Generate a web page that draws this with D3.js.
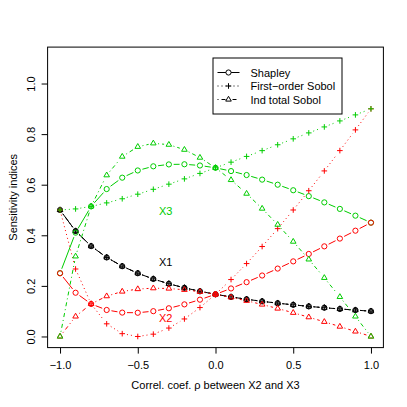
<!DOCTYPE html>
<html><head><meta charset="utf-8">
<script src="https://cdn.jsdelivr.net/npm/d3@7"></script>
<style>
body{margin:0;background:#fff}
text{font-family:"Liberation Sans",Arial,Helvetica,sans-serif;font-size:11px}
</style>
</head><body>
<svg id="chart" width="407" height="407"></svg>
<script>
// ---- data ----
const rho = [-1.0,-0.9,-0.8,-0.7,-0.6,-0.5,-0.4,-0.3,-0.2,-0.1,0.0,0.1,0.2,0.3,0.4,0.5,0.6,0.7,0.8,0.9,1.0];
// X1 (identical for all three indices)
const x1Values = [0.5,0.4167,0.3571,0.3125,0.2778,0.25,0.2273,0.2083,0.1923,0.1786,0.1667,0.1563,0.1471,0.1389,0.1316,0.125,0.1190,0.1136,0.1087,0.1042,0.1];
const shapleyX2 = [0.25,0.1729,0.1286,0.1047,0.0944,0.0938,0.1,0.1115,0.1269,0.1455,0.1667,0.1898,0.2147,0.2410,0.2684,0.2969,0.3262,0.3563,0.3870,0.4182,0.45];
const shapleyX3 = [0.25,0.4104,0.5143,0.5828,0.6278,0.6563,0.6727,0.6802,0.6808,0.6759,0.6667,0.6539,0.6382,0.6201,0.6,0.5781,0.5548,0.5301,0.5043,0.4776,0.45];
const firstX2 = [0.5,0.2667,0.1286,0.05,0.0111,0.0,0.0091,0.0333,0.0692,0.1143,0.1667,0.225,0.2882,0.3556,0.4263,0.5,0.5762,0.6545,0.7348,0.8167,0.9];
const firstX3 = [0.5,0.5042,0.5143,0.5281,0.5444,0.5625,0.5818,0.6021,0.6231,0.6446,0.6667,0.6891,0.7118,0.7347,0.7579,0.7813,0.8048,0.8284,0.8522,0.8760,0.9];
const indTotalX2 = [0.0,0.0792,0.1286,0.1594,0.1778,0.1875,0.1909,0.1896,0.1846,0.1768,0.1667,0.1547,0.1412,0.1264,0.1105,0.0938,0.0762,0.0580,0.0391,0.0198,0.0];
const indTotalX3 = [0.0,0.3167,0.5143,0.6375,0.7111,0.75,0.7636,0.7583,0.7385,0.7071,0.6667,0.6188,0.5647,0.5056,0.4421,0.375,0.3048,0.2318,0.1565,0.0792,0.0];
const xTicks = [-1.0,-0.5,0.0,0.5,1.0];
const yTicks = [0.0,0.2,0.4,0.6,0.8,1.0];
const legendLabels = ["Shapley","First\u2212order Sobol","Ind total Sobol"];
const varLabels = ["X1","X2","X3"];
const varLabelX = [-0.32,-0.32,-0.32];
const varLabelY = [0.295,0.072,0.497];

// ---- styles ----
const colBlack = "#000000", colRed = "#FF0000", colGreen = "#00CD00";
const dashes = {shapley:null, first:"1,3", total:"1,3,4,3"};
const markers = {shapley:"circle", first:"plus", total:"tri"};

const svg = d3.select("#chart");
svg.append("rect").attr("width",407).attr("height",407).attr("fill","#fff");

const x = d3.scaleLinear().domain([-1.08,1.08]).range([47.6,383.4]);
const y = d3.scaleLinear().domain([-0.044,1.144]).range([347.6,47.1]);

function markerPath(type){
  if(type==="plus") return "M-2.8,0H2.8M0,-2.8V2.8";
  if(type==="tri") return "M0,-3.2L2.8,1.6L-2.8,1.6Z";
  return d3.symbol().type(d3.symbolCircle).size(Math.PI*2.6*2.6)();
}

function drawSeries(vals, color, method){
  const g = svg.append("g");
  const pts = rho.map((r,i)=>[x(r), y(vals[i])]);
  const gap = 4.8;
  for(let i=0;i<pts.length-1;i++){
    const [ax,ay]=pts[i],[bx,by]=pts[i+1];
    const d=Math.hypot(bx-ax,by-ay);
    if(d<=2*gap) continue;
    const ux=(bx-ax)/d, uy=(by-ay)/d;
    g.append("line")
      .attr("x1",ax+ux*gap).attr("y1",ay+uy*gap)
      .attr("x2",bx-ux*gap).attr("y2",by-uy*gap)
      .attr("stroke",color).attr("stroke-width",1)
      .attr("stroke-dasharray",dashes[method]);
  }
  g.selectAll("path.m").data(pts).enter().append("path")
    .attr("class","m")
    .attr("transform",d=>`translate(${d[0]},${d[1]})`)
    .attr("d",markerPath(markers[method]))
    .attr("fill","none").attr("stroke",color).attr("stroke-width",1);
}

// draw order
drawSeries(x1Values,colBlack,"shapley");
drawSeries(x1Values,colBlack,"first");
drawSeries(x1Values,colBlack,"total");
drawSeries(shapleyX3,colGreen,"shapley");
drawSeries(shapleyX2,colRed,"shapley");
drawSeries(firstX2,colRed,"first");
drawSeries(firstX3,colGreen,"first");
drawSeries(indTotalX2,colRed,"total");
drawSeries(indTotalX3,colGreen,"total");

// box
svg.append("rect").attr("x",47.6).attr("y",47.1)
  .attr("width",383.4-47.6).attr("height",347.6-47.1)
  .attr("fill","none").attr("stroke","#000").attr("stroke-width",1);

// x axis
const gx = svg.append("g").attr("transform","translate(0,347.6)")
  .call(d3.axisBottom(x).tickValues(xTicks).tickSize(6).tickSizeOuter(0).tickFormat(d3.format(".1f")));
gx.select(".domain").remove();
gx.selectAll("text").attr("y",17.4).attr("dy","0.35em").attr("font-size",11)
  .attr("font-family","Liberation Sans, Arial, sans-serif").attr("fill","#000");

// y axis
const gy = svg.append("g").attr("transform","translate(47.6,0)")
  .call(d3.axisLeft(y).tickValues(yTicks).tickSize(6).tickSizeOuter(0).tickFormat(d3.format(".1f")));
gy.select(".domain").remove();
gy.selectAll("text").attr("x",null).attr("dy",null).attr("y",null)
  .attr("text-anchor","middle").attr("dominant-baseline","central")
  .attr("transform","translate(-16.6,0) rotate(-90)")
  .attr("font-size",11).attr("font-family","Liberation Sans, Arial, sans-serif").attr("fill","#000");

// axis titles
svg.append("text").attr("x",215.5).attr("y",385).attr("text-anchor","middle")
  .attr("dominant-baseline","central").text("Correl. coef. \u03c1 between X2 and X3");
svg.append("text").attr("transform","translate(12.5,197.3) rotate(-90)")
  .attr("text-anchor","middle").attr("dominant-baseline","central").text("Sensitivity indices");

// variable labels
const labelCols = [colBlack,colRed,colGreen];
varLabels.forEach((t,i)=>{
  svg.append("text").attr("x",x(varLabelX[i])).attr("y",y(varLabelY[i]))
    .attr("text-anchor","middle").attr("dominant-baseline","central")
    .attr("font-size",12).attr("fill",labelCols[i]).text(t);
});

// legend
const lg = svg.append("g");
lg.append("rect").attr("x",213).attr("y",58).attr("width",129).attr("height",56)
  .attr("fill","#fff").attr("stroke","#000").attr("stroke-width",1);
const legMethods = ["shapley","first","total"];
const legRowY = [72.5,86,99.5];
legendLabels.forEach((t,i)=>{
  lg.append("line").attr("x1",217.5).attr("x2",239.5).attr("y1",legRowY[i]).attr("y2",legRowY[i])
    .attr("stroke","#000").attr("stroke-width",1).attr("stroke-dasharray",dashes[legMethods[i]]);
  lg.append("path").attr("transform",`translate(228.5,${legRowY[i]})`)
    .attr("d",markerPath(markers[legMethods[i]])).attr("fill","#fff").attr("stroke","#000");
  lg.append("text").attr("x",250.5).attr("y",legRowY[i]).attr("dominant-baseline","central").text(t);
});
</script>
</body></html>
